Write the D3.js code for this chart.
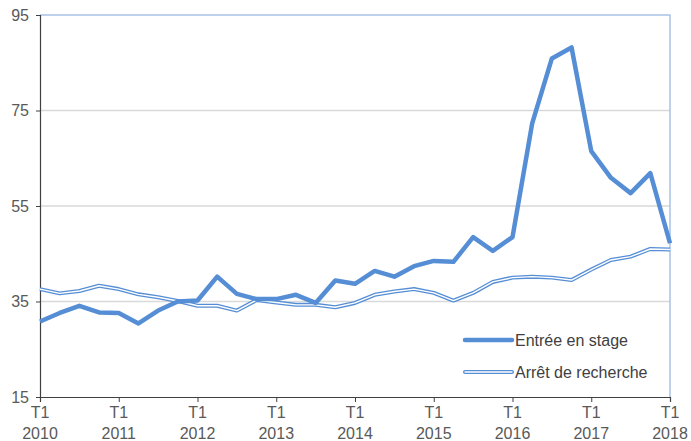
<!DOCTYPE html>
<html><head><meta charset="utf-8">
<script src="https://cdn.jsdelivr.net/npm/d3@7"></script>
<style>body{margin:0;background:#fff}svg{display:block}text{font-family:"Liberation Sans",Arial,sans-serif}</style>
</head><body><svg id="c" width="691" height="441"></svg>
<script>
const years = [2010,2011,2012,2013,2014,2015,2016,2017,2018];
const yTicks = [15,35,55,75,95];
const entree = [30.8,32.6,34.1,32.7,32.6,30.4,33.1,35.0,35.2,40.2,36.6,35.5,35.5,36.4,34.7,39.4,38.7,41.4,40.2,42.4,43.5,43.3,48.5,45.6,48.5,72.3,85.9,88.2,66.5,60.9,57.7,61.9,47.2];
const arret = [37.6,36.7,37.2,38.3,37.6,36.5,35.9,35.1,34.1,34.1,33.1,35.3,34.8,34.3,34.3,33.8,34.7,36.4,37.1,37.6,36.8,35.2,36.8,39.1,40.0,40.2,40.0,39.5,41.7,43.7,44.4,46.0,45.9];
const seriesNames = ["Entrée en stage","Arrêt de recherche"];

const svg = d3.select("#c");
const L=40, R=670, T=15, B=397;
const x = d3.scaleLinear().domain([0, entree.length-1]).range([L,R]);
const y = d3.scaleLinear().domain([15,95]).range([B,T]);
const blue = "#558ed5";
const fs = "16px";

svg.append("g").selectAll("line").data(yTicks.filter(v=>v>15&&v<95)).join("line")
  .attr("x1",L).attr("x2",R).attr("y1",d=>y(d)).attr("y2",d=>y(d))
  .attr("stroke","#d9d9d9").attr("stroke-width",1.3);
svg.append("line").attr("x1",L).attr("x2",R+0.5).attr("y1",T).attr("y2",T).attr("stroke","#a7c0e6").attr("stroke-width",1.5);
svg.append("line").attr("x1",R).attr("x2",R).attr("y1",T).attr("y2",B).attr("stroke","#a7c0e6").attr("stroke-width",1.5);

const ya = svg.append("g").attr("transform",`translate(${L},0)`)
  .call(d3.axisLeft(y).tickValues(yTicks).tickSize(4).tickPadding(7).tickFormat(d3.format("d")));
ya.select(".domain").attr("stroke","#404040").attr("stroke-width",1.2);
ya.selectAll(".tick line").attr("stroke","#404040");
ya.selectAll("text").attr("fill","#595959").style("font-size",fs).style("font-family","Liberation Sans, Arial, sans-serif");

const xa = svg.append("g").attr("transform",`translate(0,${B})`)
  .call(d3.axisBottom(x).tickValues(years.map((d,i)=>i*4)).tickSize(5).tickFormat(""));
xa.select(".domain").attr("stroke","#404040").attr("stroke-width",1.2);
xa.selectAll(".tick line").attr("stroke","#404040");
const xl = svg.append("g");
years.forEach((yr,i)=>{
  xl.append("text").attr("x",x(i*4)).attr("y",418).attr("text-anchor","middle").attr("fill","#595959").style("font-size",fs).text("T1");
  xl.append("text").attr("x",x(i*4)).attr("y",438.5).attr("text-anchor","middle").attr("fill","#595959").style("font-size",fs).text(yr);
});

const line = d3.line().x((d,i)=>x(i)).y(d=>y(d));
svg.append("path").attr("d",line(arret)).attr("fill","none").attr("stroke",blue).attr("stroke-width",4).attr("stroke-linejoin","round");
svg.append("path").attr("d",line(arret)).attr("fill","none").attr("stroke","#fff").attr("stroke-width",1.4).attr("stroke-linejoin","round");
svg.append("path").attr("d",line(entree)).attr("fill","none").attr("stroke",blue).attr("stroke-width",4.5).attr("stroke-linejoin","round");

const lg = svg.append("g");
lg.append("line").attr("x1",465).attr("x2",512).attr("y1",340).attr("y2",340).attr("stroke",blue).attr("stroke-width",4.5).attr("stroke-linecap","round");
lg.append("line").attr("x1",465).attr("x2",512).attr("y1",372).attr("y2",372).attr("stroke",blue).attr("stroke-width",4).attr("stroke-linecap","round");
lg.append("line").attr("x1",465).attr("x2",512).attr("y1",372).attr("y2",372).attr("stroke","#fff").attr("stroke-width",1.4).attr("stroke-linecap","round");
lg.append("text").attr("x",515).attr("y",345.5).attr("fill","#404040").style("font-size",fs).text(seriesNames[0]);
lg.append("text").attr("x",515).attr("y",377.5).attr("fill","#404040").style("font-size",fs).text(seriesNames[1]);
</script></body></html>
